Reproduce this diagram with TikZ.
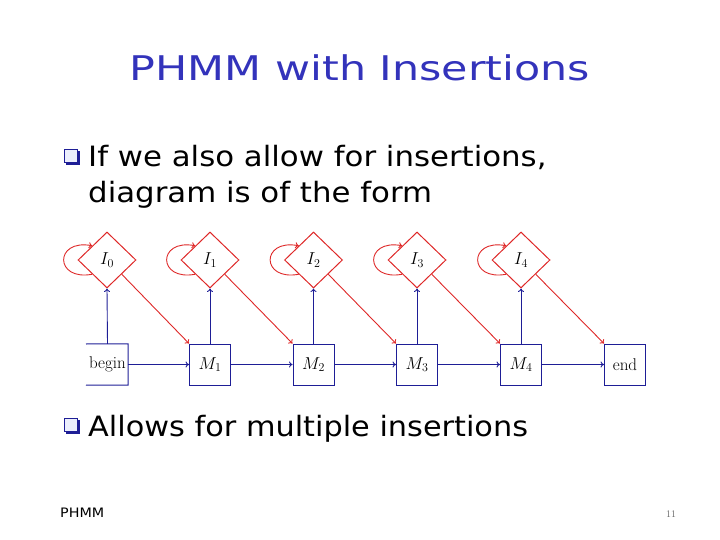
\documentclass[tikz,border=0pt]{standalone}
\usepackage{fontspec}
\setmainfont{Latin Modern Roman}
\newfontfamily\slidefont{DejaVu Sans}
\usetikzlibrary{shapes.geometric,arrows.meta}
\definecolor{titleblue}{RGB}{51,51,187}
\definecolor{navy}{RGB}{30,30,150}
\definecolor{hmmred}{RGB}{222,40,40}
\definecolor{bulletfill}{RGB}{235,238,252}
\tikzset{
  state/.style={draw=navy, line width=1pt, minimum width=41pt, minimum height=41pt, inner sep=0pt, font=\fontsize{18}{20}\selectfont},
  ins/.style={diamond, draw=hmmred, line width=1pt, minimum width=58pt, minimum height=56pt, inner sep=0pt, font=\fontsize{18}{20}\selectfont},
  bluearrow/.style={draw=navy, line width=0.9pt, -{To[length=3.5pt,width=6pt]}},
  redarrow/.style={draw=hmmred, line width=0.9pt, -{To[length=3.5pt,width=6pt]}},
  bodytext/.style={anchor=base west, inner sep=0pt, xscale=1.1, font=\slidefont\fontsize{28}{32}\selectfont},
}
\begin{document}
\begin{tikzpicture}[x=1pt,y=-1pt]
\useasboundingbox (0,0) rectangle (720,540);
% title
\node[anchor=base, inner sep=0pt, xscale=1.26, text=titleblue, font=\slidefont\fontsize{34}{38}\selectfont] (title) at (360,81) {PHMM with Insertions};
% bullets
\fill[navy] (66,151) rectangle (80,165);
\filldraw[fill=bulletfill, draw=navy, line width=0.6pt] (64,149) rectangle (77,162);
\fill[navy] (66,420) rectangle (80,434);
\filldraw[fill=bulletfill, draw=navy, line width=0.6pt] (64,418) rectangle (77,431);
\node[bodytext] (l1) at (88,167) {If we also allow for insertions,};
\node[bodytext] (l2) at (88,203) {diagram is of the form};
\node[bodytext, xscale=0.985] (l3) at (88,436) {Allows for multiple insertions};
% footer
\node[anchor=base west, inner sep=0pt, xscale=1.1, font=\slidefont\fontsize{13}{15}\selectfont] (foot) at (60,517) {PHMM};
\node[anchor=base, inner sep=0pt, text=black!60, font=\fontsize{10}{12}\selectfont] (num) at (671,517) {11};
% match states
\node[minimum width=41pt, minimum height=41pt, inner sep=0pt, font=\fontsize{17}{20}\selectfont] (b) at (107.5,364.5) {begin};
\coordinate (btl) at (86,344);
\coordinate (bbl) at (86,385);
\draw[navy, line width=1pt] (btl) -- (b.north east) -- (b.south east) -- (bbl);
\node[state] (m1) at (210,364.5) {$M_1$};
\node[state] (m2) at (313.5,364.5) {$M_2$};
\node[state] (m3) at (417,364.5) {$M_3$};
\node[state] (m4) at (521,364.5) {$M_4$};
\node[state, font=\fontsize{17}{20}\selectfont] (e) at (625,364.5) {end};
% insert states
\node[ins] (i0) at (107,260) {$I_0$};
\node[ins] (i1) at (210,260) {$I_1$};
\node[ins] (i2) at (313.5,260) {$I_2$};
\node[ins] (i3) at (417,260) {$I_3$};
\node[ins] (i4) at (521,260) {$I_4$};
% blue connectors
\draw[bluearrow] (b.east) -- (m1.west);
\draw[bluearrow] (m1.east) -- (m2.west);
\draw[bluearrow] (m2.east) -- (m3.west);
\draw[bluearrow] (m3.east) -- (m4.west);
\draw[bluearrow] (m4.east) -- (e.west);
\draw[bluearrow] (b.north) -- (i0.south);
\draw[bluearrow] (m1.north) -- (i1.south);
\draw[bluearrow] (m2.north) -- (i2.south);
\draw[bluearrow] (m3.north) -- (i3.south);
\draw[bluearrow] (m4.north) -- (i4.south);
% red connectors
\draw[redarrow] (i0.south east) -- (m1.north west);
\draw[redarrow] (i1.south east) -- (m2.north west);
\draw[redarrow] (i2.south east) -- (m3.north west);
\draw[redarrow] (i3.south east) -- (m4.north west);
\draw[redarrow] (i4.south east) -- (e.north west);
\foreach \n in {i0,i1,i2,i3,i4}{
  \draw[redarrow] (\n.south west) .. controls +(-38,7) and +(-38,-7) .. (\n.north west);
}
\end{tikzpicture}
\end{document}
